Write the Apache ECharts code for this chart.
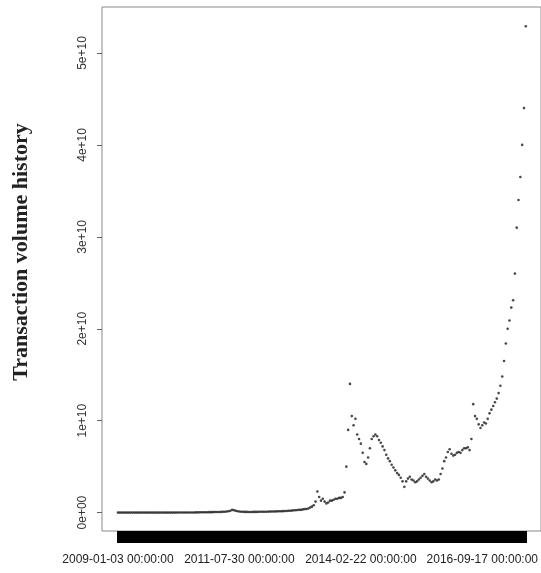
<!DOCTYPE html>
<html>
<head>
<meta charset="utf-8">
<script src="https://cdn.jsdelivr.net/npm/echarts@6/dist/echarts.min.js"></script>
<style>
html,body{margin:0;padding:0;background:#fff;}
#chart{width:541px;height:573px;}
</style>
</head>
<body>
<div id="chart"></div>
<script>
// Biweekly samples starting 2009-01-03 (14-day step)
var startDate = '2009-01-03';
var stepDays = 14;
// Transaction volume, in units of 1e9
var volumeBillions = [
  // 2009
  0,0,0,0,0,0,0,0,0,0,0,0,0,0,0,0,0,0,0,0,0,0,0,0,0,0,
  // 2010
  0.001,0.001,0.002,0.002,0.003,0.003,0.004,0.005,0.005,0.006,0.008,0.01,0.01,0.012,0.015,0.02,0.02,0.025,0.03,0.03,0.035,0.04,0.04,0.045,0.05,0.05,0.05,
  // 2011
  0.06,0.06,0.07,0.07,0.08,0.09,0.1,0.12,0.15,0.2,0.3,0.25,0.2,0.15,0.12,0.1,0.09,0.08,0.08,0.07,0.07,0.07,0.08,0.08,0.08,0.09,
  // 2012
  0.09,0.1,0.1,0.1,0.11,0.11,0.12,0.12,0.13,0.14,0.15,0.15,0.16,0.17,0.18,0.2,0.2,0.22,0.25,0.25,0.28,0.3,0.3,0.35,0.38,0.4,
  // 2013
  0.45,0.55,0.65,0.8,1.2,2.3,1.7,1.3,1.5,1.2,1.0,1.1,1.3,1.3,1.4,1.5,1.5,1.6,1.6,1.7,2.2,5.0,9.0,14.0,10.5,9.5,10.2,
  // 2014
  8.5,8.0,7.5,6.5,5.5,5.3,6.0,7.0,8.0,8.3,8.5,8.3,7.9,7.6,7.2,6.8,6.3,5.9,5.6,5.2,4.9,4.6,4.3,4.1,3.8,3.4,
  // 2015
  2.8,3.4,3.7,3.9,3.6,3.5,3.3,3.4,3.6,3.8,4.0,4.2,3.9,3.7,3.5,3.3,3.4,3.6,3.5,3.6,4.2,4.8,5.6,6.0,6.6,6.9,
  // 2016
  6.4,6.2,6.3,6.5,6.6,6.5,6.8,7.0,7.0,7.1,6.8,8.0,11.8,10.5,10.2,9.6,9.2,9.5,9.8,9.7,10.2,10.8,11.2,11.6,12.0,12.4,
  // 2017
  13.0,13.8,14.8,16.5,18.4,20.0,20.9,22.3,23.1,26.0,31.0,34.0,36.5,40.0,44.0,52.9
];
var yTickValues = [0, 1e10, 2e10, 3e10, 4e10, 5e10];
var yTickLabels = ['0e+00', '1e+10', '2e+10', '3e+10', '4e+10', '5e+10'];

function pad(n){ return (n < 10 ? '0' : '') + n; }
var categories = [];
var t0 = Date.parse(startDate + 'T00:00:00Z');
for (var i = 0; i < volumeBillions.length; i++) {
  var d = new Date(t0 + i * stepDays * 86400000);
  categories.push(d.getUTCFullYear() + '-' + pad(d.getUTCMonth() + 1) + '-' + pad(d.getUTCDate()) + ' 00:00:00');
}
var values = volumeBillions.map(function (v) { return v * 1e9; });

var yMin = -2.0e9, yMax = 55.0e9;
var chart = echarts.init(document.getElementById('chart'), null, {renderer: 'canvas'});
chart.setOption({
  animation: false,
  backgroundColor: '#fff',
  grid: [
    {left: 102, right: -5, top: 7, bottom: 42, show: true, borderColor: '#8a8a8a', borderWidth: 1, backgroundColor: 'transparent'},
    {left: 118, right: 13, top: 7, bottom: 42}
  ],
  xAxis: [
    {gridIndex: 0, type: 'value', min: 0, max: 1, show: false},
    {gridIndex: 1, type: 'category', data: categories, boundaryGap: false, position: 'bottom',
     axisLine: {show: false, onZero: false},
     axisTick: {show: true, interval: 0, length: 12, lineStyle: {color: '#000', width: 2}},
     axisLabel: {interval: 66, hideOverlap: false, margin: 23, fontSize: 12, color: '#222', fontFamily: 'Liberation Sans'},
     splitLine: {show: false}}
  ],
  yAxis: [
    {gridIndex: 0, type: 'value', min: yMin, max: yMax,
     axisLine: {show: false},
     splitLine: {show: false},
     axisTick: {show: true, customValues: yTickValues, length: 5, lineStyle: {color: '#666'}},
     axisLabel: {customValues: yTickValues, rotate: 90, margin: 13, fontSize: 12, color: '#333', fontFamily: 'Liberation Sans',
       formatter: function (v) { var k = yTickValues.indexOf(v); return k >= 0 ? yTickLabels[k] : ''; }},
     name: 'Transaction volume history', nameLocation: 'middle', nameGap: 70,
     nameTextStyle: {fontFamily: 'Liberation Serif', fontWeight: 'bold', fontSize: 22, color: '#222', padding: [0, 0, 0, 34]}},
    {gridIndex: 1, type: 'value', min: yMin, max: yMax, show: false, splitLine: {show: false}}
  ],
  series: [
    {type: 'scatter', xAxisIndex: 1, yAxisIndex: 1, data: values, symbol: 'circle', symbolSize: 2.6,
     itemStyle: {color: '#1a1a1a'}, silent: true}
  ]
});
</script>
</body>
</html>
